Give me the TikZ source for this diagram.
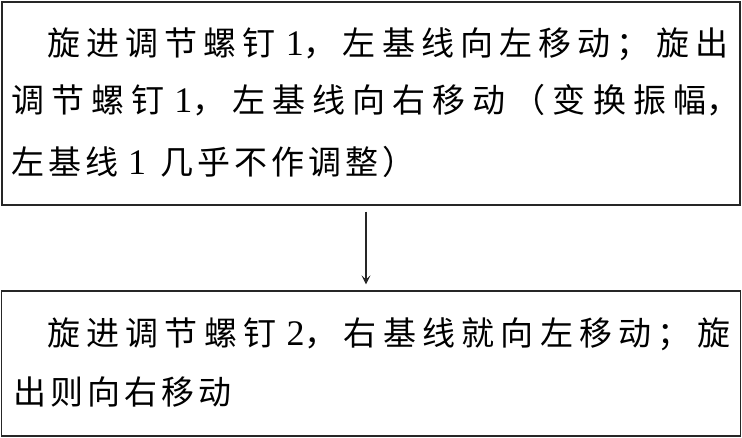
\documentclass[tikz,border=0pt]{standalone}
\usepackage{fontspec}
\usetikzlibrary{arrows.meta}
\newfontfamily\cjk{Noto Sans CJK SC}
\newfontfamily\lat{Liberation Serif}
\def\mysetcls#1{\ifx#1\relax\else\XeTeXcharclass`#1=1 \expandafter\mysetcls\fi}
\mysetcls 旋进调节螺钉左基线向移动出右变换振幅几乎不作整则就\relax
\XeTeXcharclass`，=3
\XeTeXcharclass`；=3
\XeTeXcharclass`）=3
\XeTeXcharclass`（=2
\XeTeXinterchartokenstate=1
\newcommand\cjkglue{\hskip 4pt plus 1fil\relax}
\newcommand\mydigit[1]{\hskip 10pt{\lat\fontsize{36}{36}\selectfont #1}}
\XeTeXinterchartoks 1 1 = {\cjkglue}
\XeTeXinterchartoks 1 2 = {\cjkglue}
\XeTeXinterchartoks 1 3 = {\cjkglue}
\XeTeXinterchartoks 2 1 = {\cjkglue}
\XeTeXinterchartoks 3 1 = {\cjkglue}
\XeTeXinterchartoks 3 2 = {\cjkglue}
\XeTeXinterchartoks 3 3 = {\cjkglue}
\tikzset{
  boxstyle/.style={draw=black!85, line width=1.3pt, inner sep=0pt},
  linetext/.style={anchor=base west, inner sep=0pt, font=\cjk\fontsize{33}{33}\selectfont, text=black},
  flowarrow/.style={draw=black!85, line width=1.1pt, -{Stealth[length=9pt,width=9pt,inset=4pt]}, shorten <=6pt, shorten >=6pt}
}
\begin{document}
\begin{tikzpicture}[x=1pt,y=1pt]
\useasboundingbox (0,0) rectangle (742,-438);
\node[boxstyle, minimum width=738pt, minimum height=203pt] (top) at (371,-103.5) {};
\node[boxstyle, minimum width=739pt, minimum height=145pt] (bot) at (371,-363.5) {};
\node[linetext] (t1) at (47,-56) {\hbox to 681pt{旋进调节螺钉\mydigit{1}，左基线向左移动；旋出}};
\node[linetext] (t2) at (11,-113) {\hbox to 695pt{调节螺钉\mydigit{1}，左基线向右移动（变换振幅}，};
\node[linetext] (t3) at (11,-175) {左基线\mydigit{1}\hskip 14pt 几乎不作调整）};
\node[linetext] (b1) at (47,-346) {\hbox to 683pt{旋进调节螺钉\mydigit{2}，右基线就向左移动；旋}};
\node[linetext] (b2) at (13,-405) {出则向右移动};
\draw[flowarrow] (top.south -| 366,0) -- (bot.north -| 366,0);
\end{tikzpicture}
\end{document}
